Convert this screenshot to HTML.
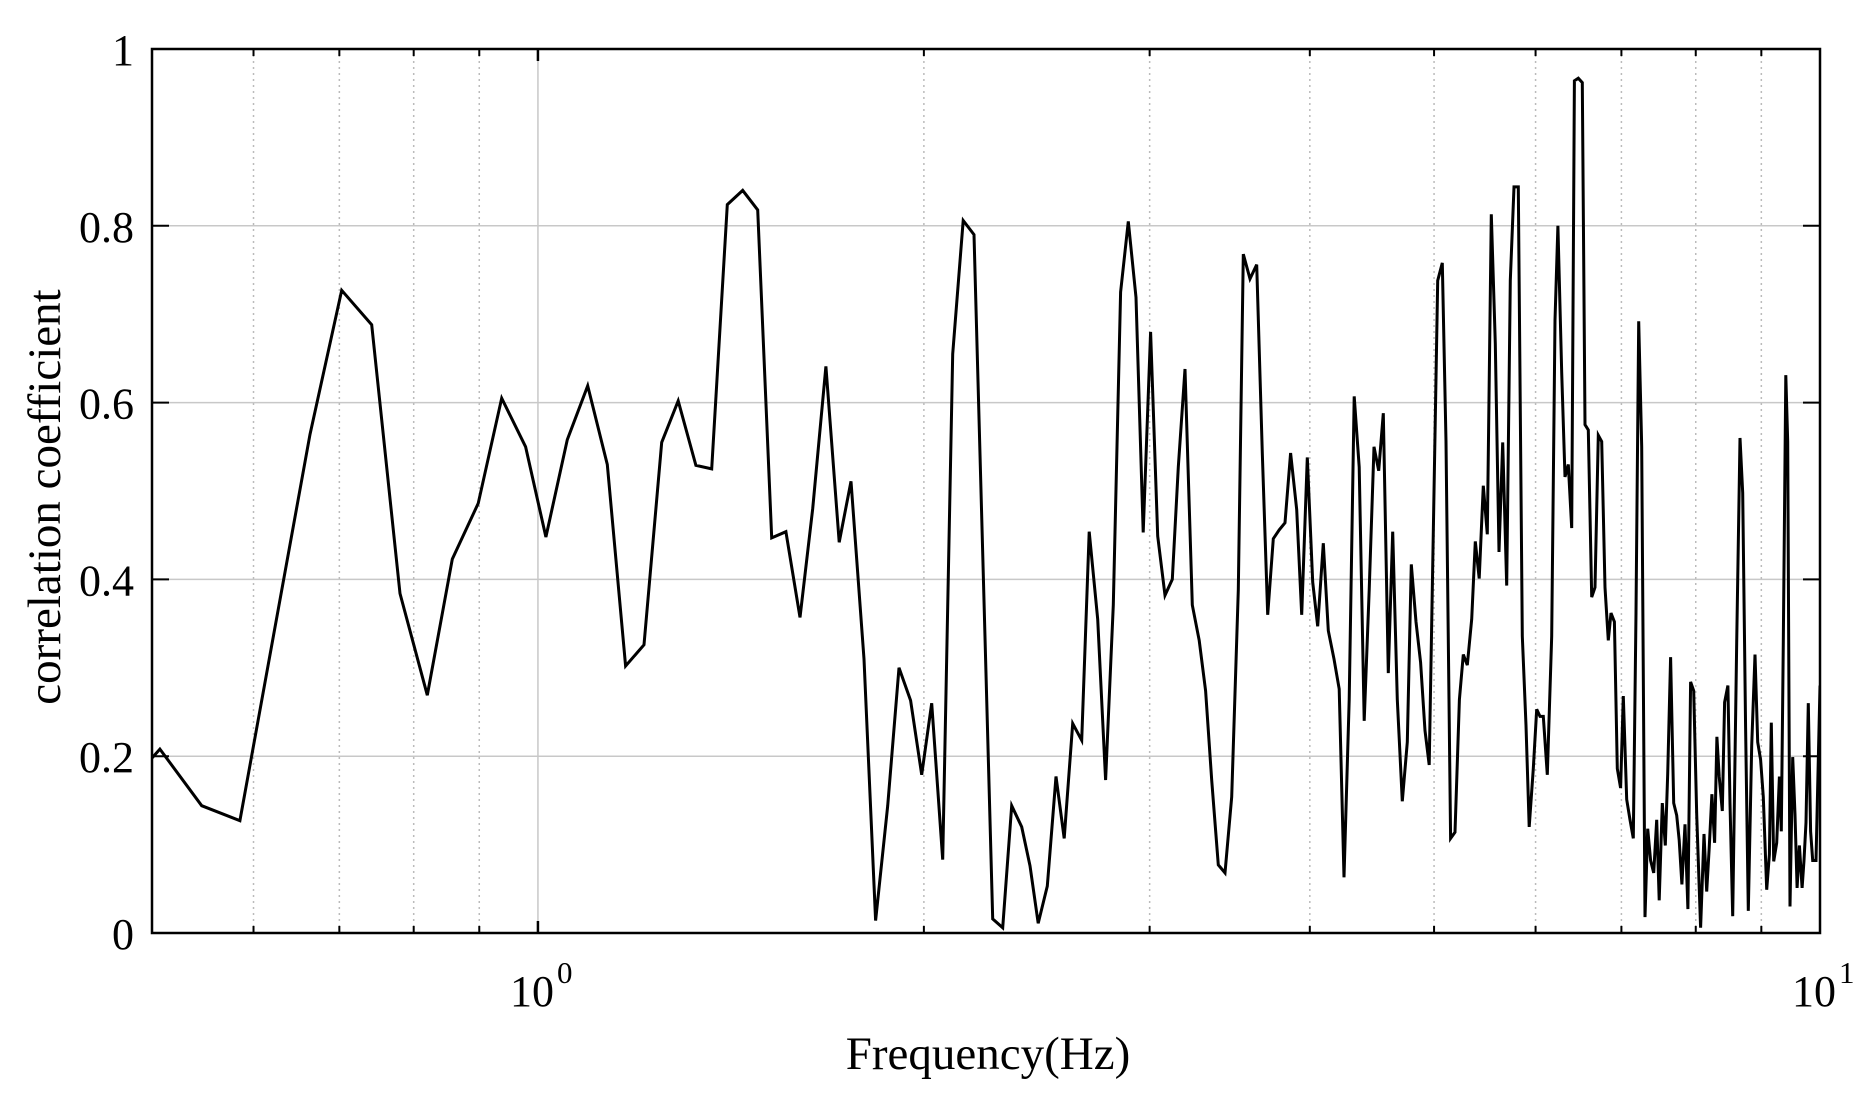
<!DOCTYPE html>
<html><head><meta charset="utf-8"><style>
html,body{margin:0;padding:0;background:#fff;}
svg{display:block;font-family:"Liberation Serif",serif;}
</style></head><body>
<svg id="chart" width="1867" height="1100" viewBox="0 0 1867 1100" xmlns="http://www.w3.org/2000/svg">
<rect x="0" y="0" width="1867" height="1100" fill="#fff"/>
<g id="grid"></g>
<g id="series"></g>
<g id="axes"></g>
<text x="988" y="1069" font-size="47" text-anchor="middle">Frequency(Hz)</text>
<text transform="translate(60,497) rotate(-90)" font-size="47" text-anchor="middle">correlation coefficient</text>
</svg>
<script>
const log10Freq = [-0.301,-0.2949,-0.2623,-0.2325,-0.1778,-0.1531,-0.1297,-0.1076,-0.0863,-0.0668,-0.0466,-0.0283,-0.0096,0.0062,0.0229,0.0388,0.0541,0.0684,0.0827,0.0965,0.1094,0.1232,0.1355,0.1477,0.1597,0.1714,0.1823,0.1934,0.2044,0.2143,0.2246,0.2350,0.2442,0.2543,0.2634,0.2728,0.2816,0.2907,0.2993,0.3071,0.3157,0.3235,0.3317,0.3401,0.3547,0.3625,0.3695,0.3773,0.3838,0.3902,0.3973,0.4041,0.4105,0.4171,0.4241,0.4300,0.4366,0.4428,0.4488,0.4545,0.4605,0.4665,0.4721,0.4779,0.4834,0.4891,0.4948,0.4995,0.5047,0.5104,0.5158,0.5208,0.5255,0.5307,0.5359,0.5411,0.5463,0.5502,0.5554,0.5606,0.5650,0.5692,0.5736,0.5782,0.5827,0.5871,0.5918,0.5957,0.6001,0.6043,0.6082,0.6126,0.6165,0.6209,0.6250,0.6287,0.6328,0.6367,0.6406,0.6445,0.6484,0.6521,0.6558,0.6594,0.6633,0.6667,0.6703,0.6742,0.6781,0.6812,0.6849,0.6885,0.6919,0.6952,0.6984,0.7018,0.7054,0.7083,0.7119,0.7153,0.7187,0.7218,0.7249,0.7283,0.7311,0.7342,0.7374,0.7405,0.7436,0.7467,0.7496,0.7525,0.7556,0.7584,0.7613,0.7647,0.7678,0.7707,0.7732,0.7764,0.7790,0.7816,0.7842,0.7873,0.7907,0.7933,0.7956,0.7985,0.8011,0.8037,0.8063,0.8084,0.8115,0.8146,0.8167,0.8193,0.8219,0.8245,0.8271,0.8297,0.8323,0.8349,0.8370,0.8396,0.8419,0.8445,0.8466,0.8492,0.8518,0.8544,0.8565,0.8586,0.8609,0.8635,0.8656,0.8679,0.8703,0.8726,0.8746,0.8770,0.8793,0.8812,0.8835,0.8859,0.8882,0.8902,0.8923,0.8947,0.8970,0.8991,0.9015,0.9038,0.9069,0.9095,0.9116,0.9136,0.9157,0.9178,0.9196,0.9214,0.9238,0.9256,0.9282,0.9298,0.9319,0.9350,0.9376,0.9397,0.9420,0.9441,0.9467,0.9493,0.9514,0.9537,0.9558,0.9584,0.9605,0.9620,0.9639,0.9662,0.9683,0.9698,0.9714,0.9733,0.9748,0.9766,0.9787,0.9805,0.9821,0.9839,0.9860,0.9875,0.9891,0.9909,0.9927,0.9943,0.9969,1.0];
const corrValues = [0.198,0.208,0.144,0.127,0.564,0.727,0.688,0.384,0.269,0.423,0.486,0.605,0.55,0.448,0.558,0.619,0.53,0.302,0.326,0.555,0.602,0.529,0.525,0.824,0.840,0.818,0.447,0.454,0.357,0.48,0.641,0.442,0.511,0.31,0.014,0.144,0.3,0.263,0.179,0.26,0.083,0.655,0.806,0.79,0.016,0.006,0.144,0.12,0.076,0.011,0.053,0.177,0.107,0.237,0.218,0.454,0.355,0.173,0.371,0.725,0.805,0.719,0.453,0.680,0.449,0.382,0.4,0.527,0.638,0.371,0.331,0.274,0.173,0.077,0.068,0.154,0.388,0.768,0.740,0.756,0.543,0.36,0.446,0.456,0.464,0.543,0.479,0.36,0.538,0.397,0.347,0.441,0.342,0.31,0.276,0.063,0.264,0.607,0.527,0.240,0.388,0.55,0.523,0.588,0.294,0.454,0.264,0.149,0.216,0.417,0.352,0.306,0.229,0.190,0.453,0.738,0.758,0.556,0.107,0.114,0.264,0.315,0.303,0.355,0.443,0.401,0.506,0.451,0.813,0.667,0.431,0.555,0.393,0.738,0.844,0.844,0.336,0.235,0.12,0.186,0.253,0.245,0.245,0.179,0.336,0.693,0.8,0.634,0.516,0.53,0.458,0.964,0.967,0.962,0.575,0.569,0.380,0.391,0.563,0.556,0.391,0.331,0.362,0.352,0.186,0.164,0.268,0.151,0.128,0.107,0.362,0.692,0.55,0.018,0.118,0.082,0.068,0.128,0.037,0.147,0.099,0.18,0.312,0.147,0.133,0.105,0.055,0.123,0.027,0.284,0.274,0.134,0.006,0.112,0.047,0.096,0.157,0.102,0.222,0.177,0.138,0.261,0.28,0.147,0.019,0.329,0.560,0.498,0.232,0.025,0.212,0.315,0.216,0.196,0.154,0.049,0.089,0.238,0.081,0.102,0.177,0.115,0.329,0.631,0.556,0.03,0.199,0.134,0.051,0.099,0.051,0.082,0.125,0.26,0.115,0.082,0.082,0.28];
const yTicks = [0, 0.2, 0.4, 0.6, 0.8, 1];
const yTickLabels = ["0", "0.2", "0.4", "0.6", "0.8", "1"];
const xMinorTicks = [0.6, 0.7, 0.8, 0.9, 2, 3, 4, 5, 6, 7, 8, 9];
const xMajorTicks = [1, 10];
const xMajorExp = ["0", "1"];

const L = 152, R = 1820, T = 49, B = 933;
const XMIN = Math.log10(0.5), XMAX = 1;
const NS = 'http://www.w3.org/2000/svg';
function xL(lf) { return L + (lf - XMIN) / (XMAX - XMIN) * (R - L); }
function xF(f) { return xL(Math.log10(f)); }
function yV(v) { return B - v * (B - T); }
function mk(tag, attrs, parent) {
  const e = document.createElementNS(NS, tag);
  for (const k in attrs) e.setAttribute(k, attrs[k]);
  parent.appendChild(e);
  return e;
}
const grid = document.getElementById('grid');
const axes = document.getElementById('axes');
const series = document.getElementById('series');

yTicks.forEach((v, i) => {
  if (v > 0 && v < 1) {
    const g = mk('line', {x1: L, x2: R, y1: yV(v), y2: yV(v), stroke: '#c8c8c8', 'stroke-width': 1.5}, grid);
    
    
  }
  const t1 = mk('line', {x1: L, x2: L + 17, y1: yV(v), y2: yV(v), stroke: '#000', 'stroke-width': 2}, axes);
  
  
  const t2 = mk('line', {x1: R - 17, x2: R, y1: yV(v), y2: yV(v), stroke: '#000', 'stroke-width': 2}, axes);
  
  
  const lb = mk('text', {x: 134, y: yV(v) + 16, 'font-size': 44, 'text-anchor': 'end', fill: '#000'}, axes);
  lb.textContent = yTickLabels[i];
  
  
});

xMinorTicks.forEach(f => {
  const x = xF(f);
  const g = mk('line', {x1: x, x2: x, y1: T, y2: B, stroke: '#bbb', 'stroke-width': 1.5, 'stroke-dasharray': '2,4'}, grid);
  
  
  const tb = mk('line', {x1: x, x2: x, y1: B, y2: B - 7, stroke: '#000', 'stroke-width': 2}, axes);
  
  
  const tt = mk('line', {x1: x, x2: x, y1: T, y2: T + 7, stroke: '#000', 'stroke-width': 2}, axes);
  
  
});

xMajorTicks.forEach((f, i) => {
  const x = xF(f);
  if (x < R - 1) {
    const g = mk('line', {x1: x, x2: x, y1: T, y2: B, stroke: '#c8c8c8', 'stroke-width': 1.5}, grid);
    
    
    const tb = mk('line', {x1: x, x2: x, y1: B, y2: B - 12, stroke: '#000', 'stroke-width': 2.5}, axes);
    
    
    const tt = mk('line', {x1: x, x2: x, y1: T, y2: T + 12, stroke: '#000', 'stroke-width': 2.5}, axes);
    
    
  }
  const lb = mk('text', {x: x - 6, y: 1006, 'font-size': 44, 'text-anchor': 'middle', fill: '#000'}, axes);
  lb.textContent = '10';
  
  
  const sp = mk('text', {x: x + 19, y: 983, 'font-size': 31, 'text-anchor': 'start', fill: '#000'}, axes);
  sp.textContent = xMajorExp[i];
  
  
});

const frame = mk('rect', {x: L, y: T, width: R - L, height: B - T, fill: 'none', stroke: '#000', 'stroke-width': 2.5}, axes);



const defs = mk('defs', {}, series);
const cp = mk('clipPath', {id: 'clip'}, defs);
mk('rect', {x: L, y: T, width: R - L, height: B - T}, cp);
const pts = log10Freq.map((lf, i) => xL(lf).toFixed(1) + ',' + yV(corrValues[i]).toFixed(1)).join(' ');
const line = mk('polyline', {points: pts, fill: 'none', stroke: '#000', 'stroke-width': 3, 'stroke-linejoin': 'miter', 'clip-path': 'url(#clip)'}, series);


</script>
</body></html>
